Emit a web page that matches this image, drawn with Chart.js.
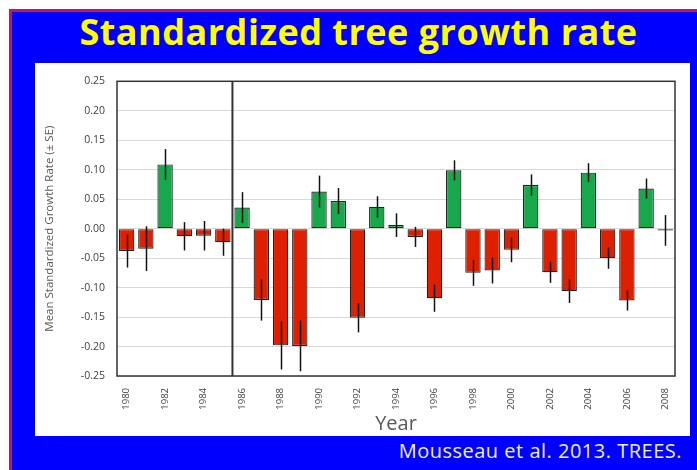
<!DOCTYPE html>
<html>
<head>
<meta charset="utf-8">
<script src="https://cdn.jsdelivr.net/npm/chart.js@4/dist/chart.umd.min.js"></script>
<style>
  body { margin: 0; width: 697px; height: 470px; background: #fff; overflow: hidden; position: relative; font-family: "Open Sans", sans-serif; }
  #frame { position: absolute; left: 9px; top: 9px; right: 0; bottom: 0; border-left: 3px solid #c8145a; border-top: 3px solid #c8145a; background: #0000ff; }
  #title { position: absolute; left: 0; width: 717px; top: 14px; text-align: center; font-weight: 700; font-size: 36px; line-height: 36px; letter-spacing: 0.5px; color: #ffff00; white-space: nowrap; }
  #panel { position: absolute; left: 35px; top: 63px; width: 655px; height: 373px; background: #fff; }
  #source { position: absolute; right: 15px; top: 441px; font-size: 20px; line-height: 20px; letter-spacing: 0.5px; color: #eef0ff; white-space: nowrap; }
</style>
</head>
<body>
<div id="frame"></div>
<div id="title">Standardized tree growth rate</div>
<div id="panel"><canvas id="growth-chart" width="655" height="373"></canvas></div>
<div id="source">Mousseau et al. 2013. TREES.</div>
<script>
const years = ["1980", "1981", "1982", "1983", "1984", "1985", "1986", "1987", "1988", "1989",
  "1990", "1991", "1992", "1993", "1994", "1995", "1996", "1997", "1998", "1999",
  "2000", "2001", "2002", "2003", "2004", "2005", "2006", "2007", "2008"];
const growth = [-0.038, -0.034, 0.109, -0.013, -0.012, -0.023, 0.036, -0.121, -0.198, -0.199,
  0.063, 0.047, -0.151, 0.037, 0.006, -0.014, -0.118, 0.099, -0.075, -0.071,
  -0.036, 0.074, -0.074, -0.106, 0.095, -0.050, -0.122, 0.068, -0.003];
const se = [0.028, 0.038, 0.026, 0.024, 0.025, 0.023, 0.026, 0.035, 0.041, 0.043,
  0.027, 0.022, 0.025, 0.018, 0.020, 0.017, 0.023, 0.017, 0.022, 0.022,
  0.021, 0.018, 0.018, 0.020, 0.016, 0.018, 0.017, 0.017, 0.026];
const yTicks = [-0.25, 0.25, 0.05];
const splitAfter = "1985";

const green = "#18a84c";
const red = "#de1f00";

const errorBars = {
  id: "errorBars",
  afterDatasetsDraw(chart) {
    const ctx = chart.ctx;
    const x = chart.scales.x;
    const y = chart.scales.y;
    ctx.save();
    ctx.strokeStyle = "#111";
    ctx.lineWidth = 1.5;
    growth.forEach((v, i) => {
      const px = Math.round(x.getPixelForValue(i)) + 0.5;
      ctx.beginPath();
      ctx.moveTo(px, y.getPixelForValue(v + se[i]));
      ctx.lineTo(px, y.getPixelForValue(v - se[i]));
      ctx.stroke();
    });
    // divider between 1985 and 1986
    const k = years.indexOf(splitAfter);
    const sx = (x.getPixelForValue(k) + x.getPixelForValue(k + 1)) / 2;
    const a = chart.chartArea;
    ctx.strokeStyle = "#333";
    ctx.lineWidth = 2;
    ctx.beginPath();
    ctx.moveTo(sx, a.top);
    ctx.lineTo(sx, a.bottom);
    ctx.stroke();
    ctx.lineWidth = 1.5;
    ctx.strokeRect(a.left, a.top, a.right - a.left, a.bottom - a.top);
    ctx.restore();
  }
};

new Chart(document.getElementById("growth-chart"), {
  type: "bar",
  data: {
    labels: years,
    datasets: [{
      data: growth,
      backgroundColor: growth.map(v => v >= 0 ? green : red),
      borderColor: "#222",
      borderWidth: 1.2,
      borderSkipped: false,
      barPercentage: 0.8,
      categoryPercentage: 1
    }]
  },
  options: {
    responsive: false,
    animation: false,
    layout: { padding: { left: 8, right: 15, top: 17, bottom: 0 } },
    plugins: { legend: { display: false }, tooltip: { enabled: false } },
    scales: {
      x: {
        grid: { display: false, drawTicks: false },
        border: { display: false },
        ticks: {
          autoSkip: false,
          minRotation: 90,
          maxRotation: 90,
          padding: 12,
          color: "#404040",
          font: { family: "Open Sans", size: 9.5 },
          callback: (v, i) => i % 2 === 0 ? years[i] : ""
        },
        title: { display: true, text: "Year", color: "#595959", font: { family: "Open Sans", size: 20 }, padding: 0 },
        afterFit(scale) { scale.height = 60; }
      },
      y: {
        min: yTicks[0],
        max: yTicks[1],
        grid: { color: "#d9d9d9", drawTicks: false },
        border: { display: false },
        ticks: {
          stepSize: yTicks[2],
          padding: 12,
          color: "#404040",
          font: { family: "Open Sans", size: 10.5 },
          callback: v => v.toFixed(2)
        },
        title: { display: true, text: "Mean Standardized Growth Rate (± SE)", color: "#595959", font: { family: "Open Sans", size: 11.5 }, padding: 0 },
        afterFit(scale) { scale.width = 74; }
      }
    }
  },
  plugins: [errorBars]
});
</script>
</body>
</html>
